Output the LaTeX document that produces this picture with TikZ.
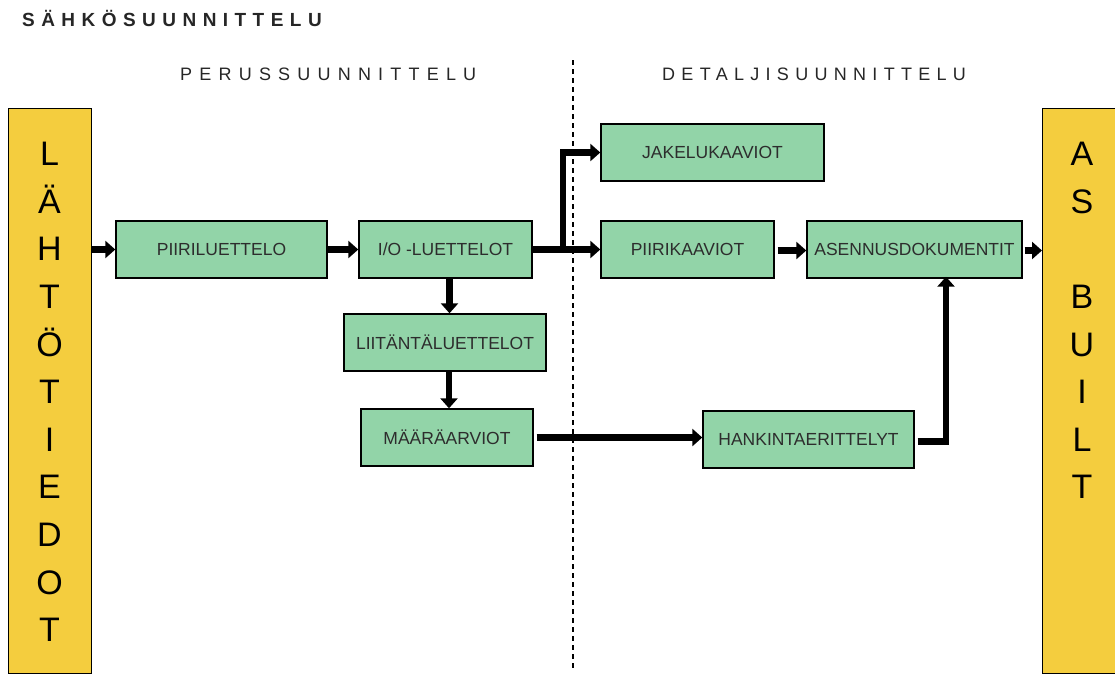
\documentclass[tikz,border=0pt]{standalone}
\usepackage{fontspec}
\setmainfont{Liberation Sans}
\usetikzlibrary{arrows.meta}
\definecolor{boxgreen}{RGB}{146,212,168}
\definecolor{boxyellow}{RGB}{244,205,62}
\definecolor{boxtext}{RGB}{45,45,45}
\begin{document}
\begin{tikzpicture}[x=1pt,y=-1pt,
  stage/.style={draw=black,line width=1.4pt,fill=boxgreen,inner sep=0pt,
    text=boxtext,font=\fontsize{17.5}{20}\selectfont},
  side/.style={draw=black,line width=1.4pt,fill=boxyellow,inner sep=0pt,
    minimum width=83pt,minimum height=565pt},
  sidetext/.style={align=center,anchor=north,inner sep=0pt,
    font=\fontsize{34}{47.6}\selectfont},
  flow/.style={line width=6.5pt,-{Triangle[length=10pt,width=17pt]}},
  heading/.style={anchor=west,inner sep=0pt,text=black!85}]
\useasboundingbox (0,0) rectangle (1115,675);

% headings
\node[heading,font=\fontsize{19}{22}\selectfont\bfseries\addfontfeature{LetterSpace=34}] (title) at (22,18) {SÄHKÖSUUNNITTELU};
\node[heading,font=\fontsize{18}{21}\selectfont\addfontfeature{LetterSpace=40}] (perus) at (180,74) {PERUSSUUNNITTELU};
\node[heading,font=\fontsize{18}{21}\selectfont\addfontfeature{LetterSpace=35}] (detalji) at (662,74) {DETALJISUUNNITTELU};

% phase divider
\coordinate (divtop) at (573,60);
\coordinate (divbot) at (573,670);
\draw[dashed,line width=1.2pt,dash pattern=on 5pt off 4pt] (divtop) -- (divbot);

% input and output columns
\node[side,anchor=north west] (lahto) at (8,108) {};
\node[sidetext] (lahtotext) at (49.5,142) {L\\Ä\\H\\T\\Ö\\T\\I\\E\\D\\O\\T};
\node[side,minimum width=75pt,anchor=north west] (asbuilt) at (1042,108) {};
\node[sidetext] (asbuilttext) at (1082,142) {A\\S\\[47.6pt]B\\U\\I\\L\\T};

% process boxes
\node[stage,minimum width=211pt,minimum height=57pt] (piiriluettelo) at (221.5,249.5) {PIIRILUETTELO};
\node[stage,minimum width=173pt,minimum height=57pt] (io) at (445.5,249.5) {I/O -LUETTELOT};
\node[stage,minimum width=202pt,minimum height=57pt] (liitanta) at (445,342.5) {LIITÄNTÄLUETTELOT};
\node[stage,minimum width=172pt,minimum height=57pt] (maara) at (447,437.5) {MÄÄRÄARVIOT};
\node[stage,minimum width=223pt,minimum height=57pt] (jakelu) at (712.5,152.5) {JAKELUKAAVIOT};
\node[stage,minimum width=173pt,minimum height=57pt] (piirikaaviot) at (687.5,249.5) {PIIRIKAAVIOT};
\node[stage,minimum width=215pt,minimum height=57pt] (asennus) at (914.5,249.5) {ASENNUSDOKUMENTIT};
\node[stage,minimum width=211pt,minimum height=57pt] (hankinta) at (808.5,439.5) {HANKINTAERITTELYT};

% connectors
\coordinate (split) at (563,249.5);
\draw[flow] (lahto.east |- piiriluettelo.west) -- (piiriluettelo.west);
\draw[flow] (piiriluettelo.east) -- (io.west);
\draw[line width=6.5pt] (io.east) -- (split);
\draw[flow] (split) -- (piirikaaviot.west);
\draw[flow] (split) |- (jakelu.west);
\draw[flow] (io.south) ++(4pt,1.5pt) coordinate (iodown) -- (iodown |- liitanta.north);
\draw[flow] (liitanta.south) ++(4pt,1.5pt) coordinate (lidown) -- (lidown |- maara.north);
\draw[flow] (maara.east) ++(3pt,0) coordinate (mout) -- (mout -| hankinta.west);
\draw[flow] (piirikaaviot.east) ++(3pt,-1pt) coordinate (pout) -- (pout -| asennus.west);
\draw[flow] (hankinta.east) ++(3pt,-2pt) coordinate (hout) -| ([xshift=31.5pt,yshift=2pt]asennus.south);
\draw[flow] (asennus.east) ++(2pt,-1pt) coordinate (aout) -- (aout -| asbuilt.west);
\end{tikzpicture}
\end{document}
